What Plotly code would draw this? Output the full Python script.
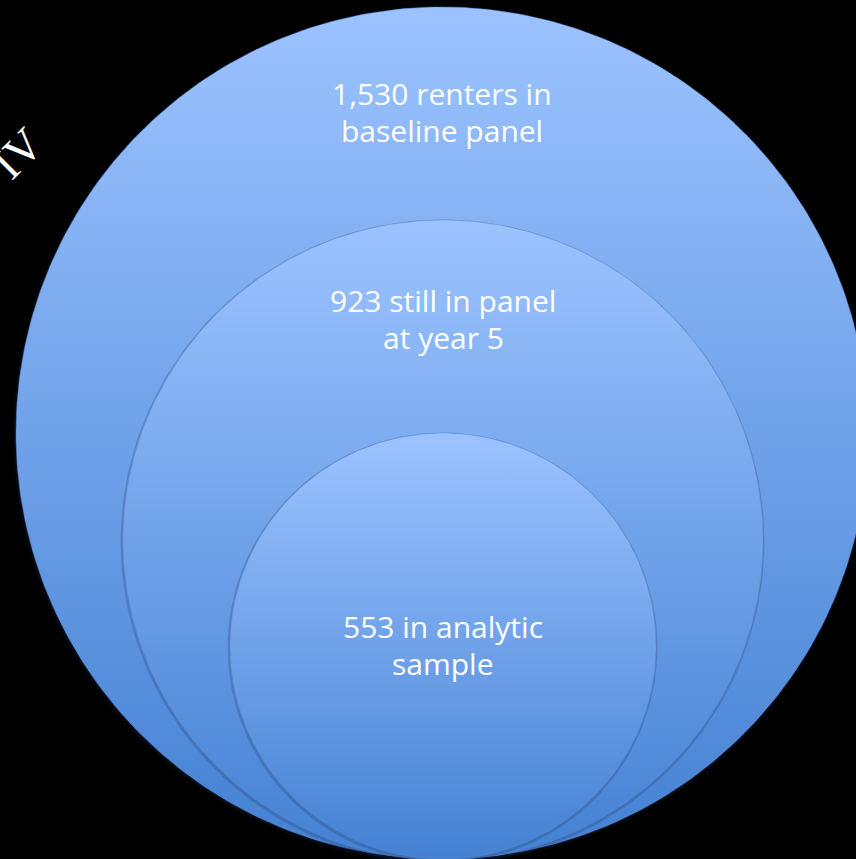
import numpy as np
import plotly.graph_objects as go

# Data
counts = [1530, 923, 553]
line1 = ["renters in", "still in panel", "in analytic"]
line2 = ["baseline panel", "at year 5", "sample"]

# Layout (pixel space, y measured downward from top)
centers_x = [442, 443, 443]
centers_y = [433, 540, 646]
radii = [426, 320, 213]
label_y = [112, 319, 645]
line_gap = 37

W, H = 856, 859
fig = go.Figure()

theta = np.linspace(0, 2 * np.pi, 361)
for cx, cy, r in zip(centers_x, centers_y, radii):
    xs = cx + r * np.cos(theta)
    ys = (H - cy) + r * np.sin(theta)
    # soft shadow ring
    fig.add_trace(go.Scatter(x=xs - 0.5, y=ys - 1.5, mode="lines",
                             line=dict(color="rgba(20,40,80,0.22)", width=4),
                             hoverinfo="skip", showlegend=False))
    fig.add_trace(go.Scatter(
        x=xs, y=ys, mode="lines", fill="toself",
        line=dict(color="rgba(100,140,210,0.45)", width=1),
        fillgradient=dict(type="vertical",
                          colorscale=[[0, "#4481D3"], [1, "#9CC3FF"]],
                          start=H - cy - r, stop=H - cy + r),
        hoverinfo="skip", showlegend=False))

font = dict(family="Open Sans, sans-serif", size=30, color="white")
for n, a, b, cx, ly in zip(counts, line1, line2, centers_x, label_y):
    fig.add_annotation(x=cx, y=H - (ly - line_gap / 2), text=f"{n:,} {a}", showarrow=False,
                       font=font, xanchor="center", yanchor="middle")
    fig.add_annotation(x=cx, y=H - (ly + line_gap / 2), text=b, showarrow=False,
                       font=font, xanchor="center", yanchor="middle")

# partially visible rotated title at top-left (cut off by the edge, as in the reference)
fig.add_annotation(x=5, y=H - 150, text="EXHIBIT IV", showarrow=False, textangle=-45,
                   font=dict(family="Liberation Serif, serif", size=46, color="white"),
                   xanchor="right", yanchor="middle", xshift=50, yshift=-72)

fig.update_layout(
    width=W, height=H, margin=dict(l=0, r=0, t=0, b=0),
    paper_bgcolor="black", plot_bgcolor="black",
    xaxis=dict(range=[0, W], visible=False, fixedrange=True),
    yaxis=dict(range=[0, H], visible=False, fixedrange=True),
    showlegend=False,
)

fig.write_html("out.html")
